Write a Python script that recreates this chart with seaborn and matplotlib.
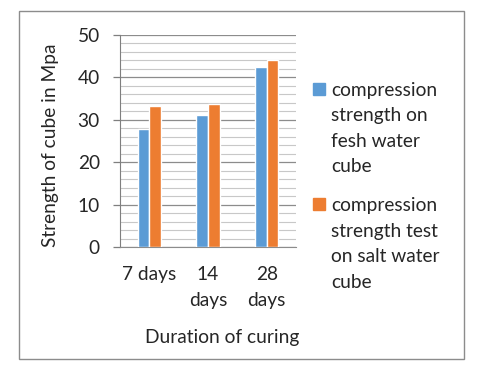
import pandas as pd
import seaborn as sns
import matplotlib.pyplot as plt
from matplotlib.patches import Rectangle
from matplotlib.ticker import MultipleLocator

categories = ['7 days', '14\ndays', '28\ndays']
fresh_water = [27.8, 31.2, 42.5]
salt_water = [33.2, 33.8, 44.0]
series_names = ['compression\nstrength on\nfesh water\ncube',
                'compression\nstrength test\non salt water\ncube']
colors = ['#5B9BD5', '#ED7D31']

df = pd.DataFrame({
    'Duration': categories * 2,
    'Strength': fresh_water + salt_water,
    'Series': [series_names[0]] * 3 + [series_names[1]] * 3,
})

sns.set_style('white')
plt.rcParams['font.family'] = ['Lato', 'DejaVu Sans']
fs = 13.8

W, H = 485, 366
fig = plt.figure(figsize=(W / 100, H / 100), dpi=100)
ax = fig.add_axes([120 / W, 1 - 247 / H, 176 / W, 212 / H])

sns.barplot(data=df, x='Duration', y='Strength', hue='Series',
            palette=colors, width=0.4, saturation=1,
            ax=ax, zorder=3, legend=False)

ax.set_xlim(-0.5, 2.5)
ax.set_ylim(0, 50)
ax.yaxis.set_major_locator(MultipleLocator(10))
ax.yaxis.set_minor_locator(MultipleLocator(2))
ax.grid(axis='y', which='major', color='#8C8C8C', lw=0.9, zorder=0)
ax.grid(axis='y', which='minor', color='#C8C8C8', lw=0.8, zorder=0)
ax.set_axisbelow(True)

for s in ['top', 'right']:
    ax.spines[s].set_visible(False)
ax.spines['left'].set_color('#7F7F7F')
ax.spines['bottom'].set_color('#8C8C8C')
ax.tick_params(axis='y', which='major', left=True, length=5, width=0.9,
               color='#7F7F7F', labelsize=fs, pad=9.5)
ax.tick_params(axis='y', which='minor', left=False)
ax.tick_params(axis='x', bottom=False, labelsize=fs, pad=10.5)
for t in ax.get_xticklabels():
    t.set_linespacing(1.6)
    t.set_verticalalignment('top')

ax.set_xlabel('')
ax.set_ylabel('')
fig.text(222 / W, 1 - 338 / H, 'Duration of curing', fontsize=fs,
         ha='center', va='center')
fig.text(51 / W, 1 - 145 / H, 'Strength of cube in Mpa', fontsize=fs,
         rotation=90, ha='center', va='center')

# legend: square marker next to first line of each wrapped label
legend_top = [96, 211]
for name, col, y0 in zip(series_names, colors, legend_top):
    fig.patches.append(Rectangle((313 / W, 1 - (y0 - 1) / H), 12 / W, 12 / H,
                                 transform=fig.transFigure, color=col))
    for k, line in enumerate(name.split('\n')):
        fig.text(331 / W, 1 - (y0 + 25.5 * k) / H, line, fontsize=fs,
                 ha='left', va='baseline')

fig.patches.append(Rectangle((19 / W, 7 / H), 445 / W, 348 / H,
                             transform=fig.transFigure, fill=False,
                             edgecolor='#8C8C8C', lw=1))

fig.savefig('out.png', dpi=100)
